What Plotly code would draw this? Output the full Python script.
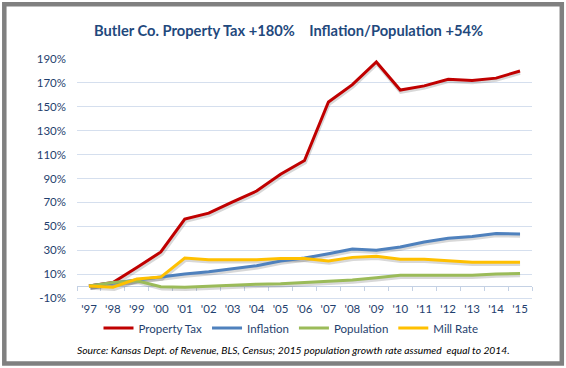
import plotly.graph_objects as go

years = ["'97", "'98", "'99", "'00", "'01", "'02", "'03", "'04", "'05", "'06",
         "'07", "'08", "'09", "'10", "'11", "'12", "'13", "'14", "'15"]
property_tax = [0, 3, 15.5, 28.5, 56, 61, 70.5, 79.5, 93.5, 105,
                154, 168.5, 187.5, 164, 167.5, 173, 172, 174, 180]
inflation = [0, 2.5, 5.3, 7.5, 10, 12, 14.5, 17, 21, 23.4,
             27, 31, 30, 32.6, 36.8, 40, 41.5, 44, 43.5]
population = [0, 3, 4.5, -0.5, -1, 0, 1, 1.5, 2, 3,
              4, 5, 7, 9, 9, 9, 9, 10, 10.5]
mill_rate = [0, -1, 6, 7.5, 23.5, 22, 22, 22, 23, 23,
             21, 24, 25, 22.5, 22.5, 21, 20, 20, 20]

series = [
    ("Property Tax", property_tax, "#C00000"),
    ("Inflation", inflation, "#4F81BD"),
    ("Population", population, "#9BBB59"),
    ("Mill Rate", mill_rate, "#FFC000"),
]

W, H = 566, 368
L, R, T, B = 77, 34, 59, 70
PW, PH = W - L - R, H - T - B
YMIN, YMAX = -10, 190
xidx = list(range(len(years)))

def px2x(px):
    return (px - L) / PW

def px2y(py):
    return (H - B - py) / PH

fig = go.Figure()

# invisible traces so both the labelled x axis and the 0% tick axis render
fig.add_trace(go.Scatter(x=[0], y=[None], xaxis="x", yaxis="y", showlegend=False,
                         hoverinfo="skip"))
fig.add_trace(go.Scatter(x=[0], y=[None], xaxis="x2", yaxis="y", showlegend=False,
                         hoverinfo="skip"))

# soft drop shadows (same data, drawn on axes shifted a couple of pixels)
sdx, sdy = 1.5 / PW, 2.0 / PH
for name, vals, col in series:
    fig.add_trace(go.Scatter(x=xidx, y=vals, mode="lines", xaxis="x3", yaxis="y3",
                             line=dict(color="rgba(60,60,60,0.20)", width=3.5),
                             showlegend=False, hoverinfo="skip"))

for name, vals, col in series:
    fig.add_trace(go.Scatter(x=xidx, y=vals, mode="lines", name=name,
                             xaxis="x4", yaxis="y4",
                             line=dict(color=col, width=3)))

grid = "#D5DFEE"
txt = "#1F3F6E"
fig.update_layout(
    width=W, height=H,
    margin=dict(l=L, r=R, t=T, b=B, autoexpand=False),
    paper_bgcolor="white", plot_bgcolor="rgba(0,0,0,0)",
    font=dict(family="Lato", color=txt, size=11),
    xaxis=dict(range=[-0.5, 18.5], tickvals=xidx, ticktext=years, showgrid=False,
               zeroline=False, showline=True, linecolor=grid, linewidth=1, ticks="",
               tickfont=dict(size=11.5, color=txt), domain=[0, 1]),
    xaxis2=dict(range=[-0.5, 18.5], overlaying="x", anchor="free",
                position=(0 - YMIN) / (YMAX - YMIN), showgrid=False, zeroline=False,
                showline=True, linecolor="#C4D1E4", linewidth=1, ticks="outside",
                ticklen=4, tickcolor="#C4D1E4",
                tickvals=[i - 0.5 for i in range(len(years) + 1)], showticklabels=False),
    yaxis=dict(range=[YMIN, YMAX], tickvals=list(range(-10, 191, 20)),
               ticktext=[f"{v}%" for v in range(-10, 191, 20)], showgrid=True,
               gridcolor=grid, gridwidth=1, zeroline=False, showline=False,
               tickfont=dict(size=11.5, color=txt), ticklabelstandoff=10),
    xaxis3=dict(range=[-0.5, 18.5], domain=[sdx, 1], anchor="y3", visible=False),
    yaxis3=dict(range=[YMIN + 200 * sdy, YMAX], domain=[0, 1 - sdy], anchor="x3",
                visible=False),
    xaxis4=dict(range=[-0.5, 18.5], domain=[0, 1], anchor="y4", visible=False),
    yaxis4=dict(range=[YMIN, YMAX], domain=[0, 1], anchor="x4", visible=False),
    legend=dict(orientation="h", x=px2x(291), xanchor="center", y=px2y(328),
                yanchor="middle", font=dict(size=11.5, color=txt), itemwidth=30,
                bgcolor="rgba(0,0,0,0)", tracegroupgap=0),
    showlegend=True,
)

fig.add_annotation(text="<b>Butler Co. Property Tax +180%    Inflation/Population +54%</b>",
                   xref="paper", yref="paper", x=px2x(288), y=px2y(30.5),
                   xanchor="center", yanchor="middle", showarrow=False,
                   font=dict(size=14.7, color="#1F497D", family="Lato"))
fig.add_annotation(text="<i>Source: Kansas Dept. of Revenue, BLS, Census; 2015 population growth rate assumed  equal to 2014.</i>",
                   xref="paper", yref="paper", x=px2x(293.5), y=px2y(349.5),
                   xanchor="center", yanchor="middle", showarrow=False,
                   font=dict(size=10.3, color="#000000", family="Lato"))

# outer grey frame
fig.add_shape(type="rect", xref="paper", yref="paper",
              x0=px2x(4.3), x1=px2x(561.8), y0=px2y(4.3), y1=px2y(363.6),
              line=dict(color="#808080", width=4.5), fillcolor="rgba(0,0,0,0)",
              layer="above")

fig.write_html("out.html", config={"displayModeBar": False},
               post_script="document.body.style.margin='0';document.body.style.padding='0';")
